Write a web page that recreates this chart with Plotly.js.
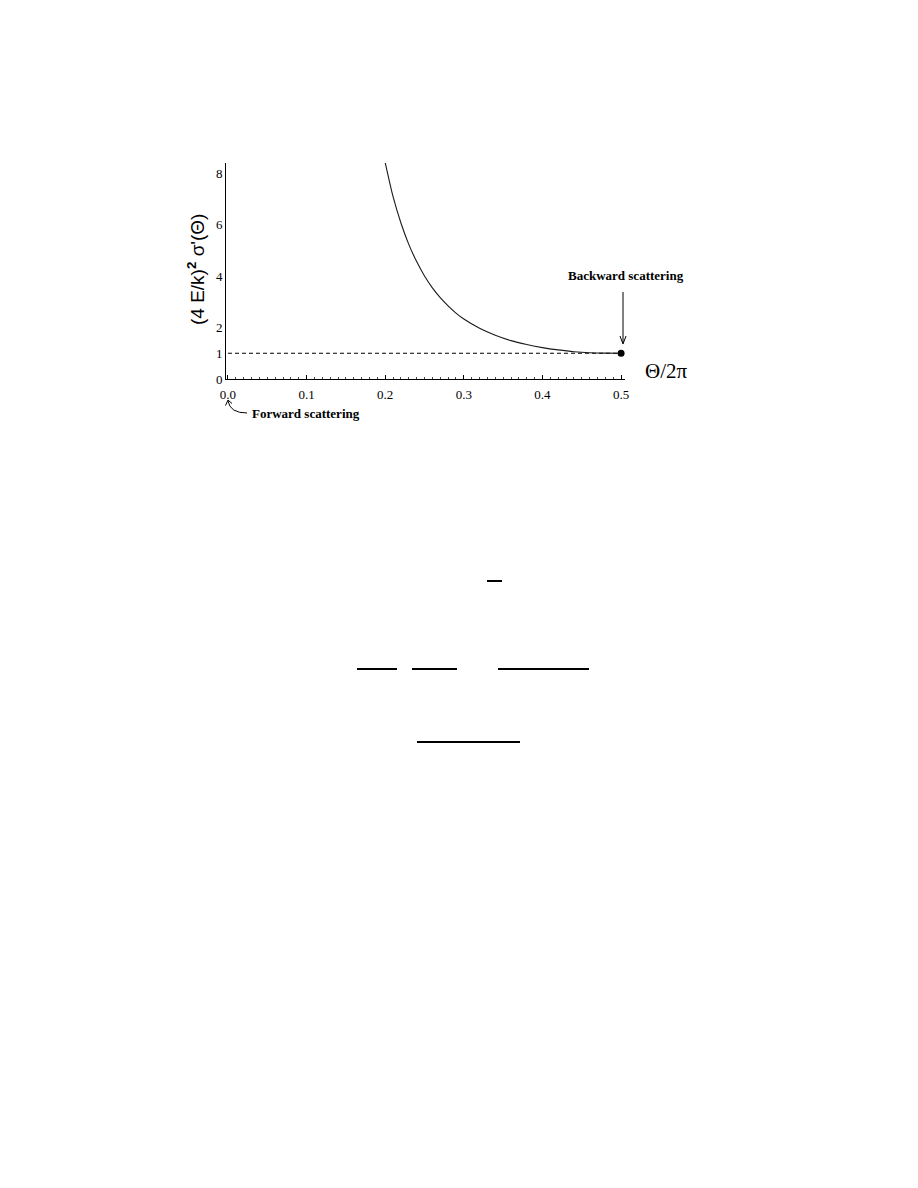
<!DOCTYPE html>
<html>
<head>
<meta charset="utf-8">
<script src="https://cdn.plot.ly/plotly-3.0.1.min.js"></script>
<style>
html,body{margin:0;padding:0;background:#fff;}
#chart{width:918px;height:1188px;}
</style>
</head>
<body>
<div id="chart"></div>
<script>
// Values
var thetaFrac = [0.20, 0.21, 0.22, 0.23, 0.24, 0.25, 0.26, 0.27, 0.28, 0.29, 0.30, 0.32, 0.34, 0.36, 0.38, 0.40, 0.42, 0.44, 0.46, 0.48, 0.50];
var crossSection = [8.4, 7.08, 6.06, 5.23, 4.56, 4.0, 3.54, 3.16, 2.84, 2.56, 2.33, 1.97, 1.70, 1.49, 1.34, 1.22, 1.13, 1.06, 1.02, 1.005, 1.0];
var refX = [0, 0.5];
var refY = [1, 1];
var endX = [0.5];
var endY = [1];
var xTickVals = [0, 0.1, 0.2, 0.3, 0.4, 0.5];
var xTickText = ["0.0", "0.1", "0.2", "0.3", "0.4", "0.5"];
var yTickVals = [0, 1, 2, 4, 6, 8];
var yTickText = ["0", "1", "2", "4", "6", "8"];

// layout geometry (pixels)
var L = 226, R = 293, T = 163, B = 809;
var W = 918 - L - R, H = 1188 - T - B;
function px(x){ return (x - L) / W; }
function py(y){ return (1188 - B - y) / H; }

var serif = "Liberation Serif, Times New Roman, serif";

var traces = [
  {x: refX, y: refY, mode: 'lines', line: {color: '#000', width: 1.1, dash: '4px,3px'}, hoverinfo: 'skip'},
  {x: thetaFrac, y: crossSection, mode: 'lines', line: {color: '#1a1a1a', width: 1.1, shape: 'spline', smoothing: 0.6}},
  {x: endX, y: endY, mode: 'markers', marker: {color: '#000', size: 7}}
];

function hbar(x0, x1, y){
  return {type: 'line', xref: 'paper', yref: 'paper', x0: px(x0), x1: px(x1), y0: py(y), y1: py(y), line: {color: '#000', width: 2}};
}

var shapes = [
  hbar(487, 502, 581),
  hbar(357, 397, 669),
  hbar(412, 457, 669),
  hbar(498, 589, 669),
  hbar(417, 520, 742),
  // curved arrow for forward scattering
  {type: 'path', xref: 'paper', yref: 'paper',
   path: 'M ' + px(247) + ',' + py(413) + ' Q ' + px(230) + ',' + py(413) + ' ' + px(228) + ',' + py(401),
   line: {color: '#000', width: 1}},
  {type: 'path', xref: 'paper', yref: 'paper',
   path: 'M ' + px(225.5) + ',' + py(405.5) + ' L ' + px(228) + ',' + py(400) + ' L ' + px(232) + ',' + py(403.5),
   line: {color: '#000', width: 1}},
  // straight arrow for backward scattering
  {type: 'line', xref: 'paper', yref: 'paper', x0: px(623), x1: px(623), y0: py(292), y1: py(343),
   line: {color: '#000', width: 1}},
  {type: 'path', xref: 'paper', yref: 'paper',
   path: 'M ' + px(620) + ',' + py(336) + ' L ' + px(623) + ',' + py(344) + ' L ' + px(626) + ',' + py(336),
   line: {color: '#000', width: 1}}
];

var annotations = [
  {xref: 'paper', yref: 'paper', x: px(625.5), y: py(275), text: '<b>Backward scattering</b>', showarrow: false,
   font: {family: serif, size: 13, color: '#000'}, xanchor: 'center', yanchor: 'middle'},
  {xref: 'paper', yref: 'paper', x: px(306), y: py(413), text: '<b>Forward scattering</b>', showarrow: false,
   font: {family: serif, size: 13, color: '#000'}, xanchor: 'center', yanchor: 'middle'},
  {xref: 'paper', yref: 'paper', x: px(666), y: py(371), text: 'Θ/2π', showarrow: false,
   font: {family: serif, size: 21, color: '#000'}, xanchor: 'center', yanchor: 'middle'},
  {xref: 'paper', yref: 'paper', x: px(196), y: py(270), text: "(4 E/k)<sup><b>2</b></sup> σ'(Θ)", showarrow: false,
   textangle: -90, font: {family: 'Liberation Sans, Arial, sans-serif', size: 19, color: '#000'}, xanchor: 'center', yanchor: 'middle'}
];

var layout = {
  width: 918, height: 1188,
  margin: {l: L, r: R, t: T, b: B, pad: 0},
  paper_bgcolor: '#fff', plot_bgcolor: '#fff',
  showlegend: false,
  xaxis: {
    range: [-0.0025, 0.505], showgrid: false, zeroline: false,
    showline: true, linecolor: '#000', linewidth: 1,
    tickmode: 'array', tickvals: xTickVals, ticktext: xTickText,
    ticks: 'inside', ticklen: 4, tickcolor: '#000', tickwidth: 1,
    ticklabelstandoff: 3,
    minor: {dtick: 0.01, ticks: 'inside', ticklen: 2.5, tickcolor: '#444', tickwidth: 1, showgrid: false},
    tickfont: {family: serif, size: 13, color: '#000'}
  },
  yaxis: {
    range: [0, 8.39], showgrid: false, zeroline: false,
    showline: true, linecolor: '#000', linewidth: 1,
    tickmode: 'array', tickvals: yTickVals, ticktext: yTickText,
    ticks: '', tickfont: {family: serif, size: 13, color: '#000'}
  },
  shapes: shapes,
  annotations: annotations
};

Plotly.newPlot('chart', traces, layout, {displayModeBar: false, staticPlot: true});
</script>
</body>
</html>
